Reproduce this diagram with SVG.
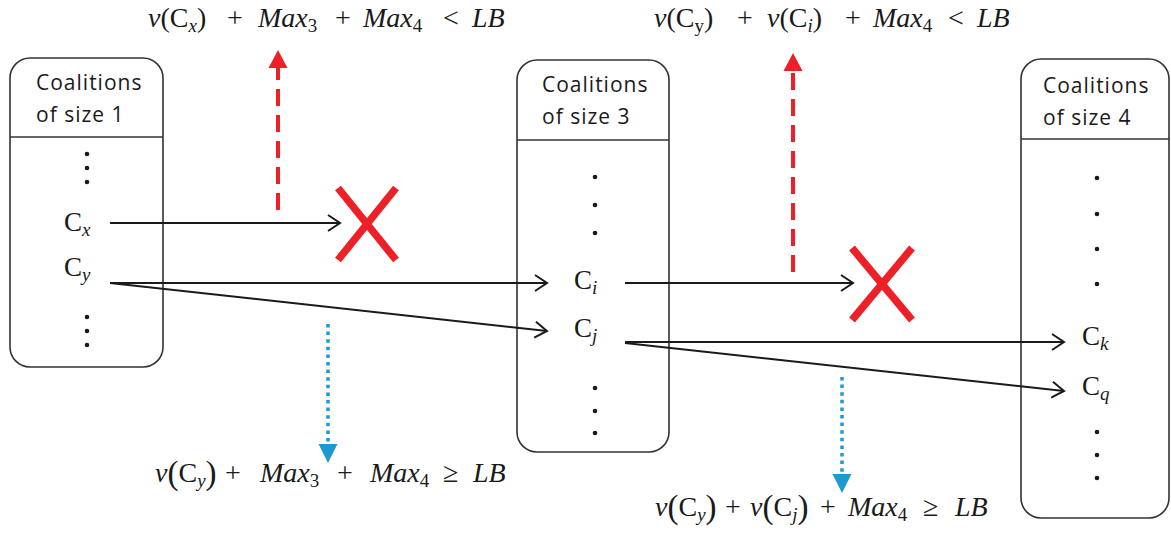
<svg xmlns="http://www.w3.org/2000/svg" width="1171" height="539" viewBox="0 0 1171 539">
<defs>
<style>
.box{fill:#fff;stroke:#333;stroke-width:1.6}
.hdr{stroke:#333;stroke-width:1.3}
.title{font-family:"Open Sans","Noto Sans",sans-serif;font-size:21px;letter-spacing:1px;fill:#1a1a1a}
.lbl{font-family:"Liberation Serif",serif;font-size:27px;fill:#1a1a1a}
.it{font-style:italic}
.sub{font-size:19px}
.big{font-size:33px}
.dot{fill:#1a1a1a}
.conn{stroke:#1a1a1a;stroke-width:2;fill:none;marker-end:url(#open)}
.red{stroke:#ED2027;stroke-width:4;fill:none;stroke-dasharray:17 9;marker-end:url(#redTri)}
.blue{stroke:#1E9AD3;stroke-width:3.5;fill:none;stroke-dasharray:3.5 4.1;marker-end:url(#blueTri)}
.cross{stroke:#ED2027;stroke-width:7.5;fill:none}
.math{font-family:"Liberation Serif",serif;font-size:28px;fill:#1a1a1a}
</style>
<marker id="open" markerUnits="userSpaceOnUse" markerWidth="20" markerHeight="20" viewBox="-14 -10 16 20" refX="0" refY="0" orient="auto">
<path d="M-12,-8 L0,0 L-12,8" fill="none" stroke="#1a1a1a" stroke-width="2"/>
</marker>
<marker id="redTri" markerUnits="userSpaceOnUse" markerWidth="22" markerHeight="22" viewBox="0 -11 20 22" refX="0" refY="0" orient="auto">
<path d="M0,-9.5 L18,0 L0,9.5 z" fill="#ED2027"/>
</marker>
<marker id="blueTri" markerUnits="userSpaceOnUse" markerWidth="22" markerHeight="22" viewBox="0 -11 22 22" refX="0" refY="0" orient="auto">
<path d="M0,-9.5 L19,0 L0,9.5 z" fill="#1E9AD3"/>
</marker>
</defs>

<g id="box1">
<rect class="box" x="10" y="58" width="153" height="309" rx="20"/>
<line class="hdr" x1="10" y1="137" x2="163" y2="137"/>
<text class="title" x="36" y="90">Coalitions</text>
<text class="title" x="36" y="122">of size 1</text>
<circle class="dot" cx="87" cy="154" r="2.3"/><circle class="dot" cx="87" cy="168" r="2.3"/><circle class="dot" cx="87" cy="182" r="2.3"/>
<text class="lbl" x="64" y="231">C<tspan class="it sub" dy="5">x</tspan></text>
<text class="lbl" x="64" y="276">C<tspan class="it sub" dy="5">y</tspan></text>
<circle class="dot" cx="87" cy="317" r="2.3"/><circle class="dot" cx="87" cy="331" r="2.3"/><circle class="dot" cx="87" cy="345" r="2.3"/>
</g>

<g id="box3">
<rect class="box" x="517" y="60" width="152" height="392" rx="20"/>
<line class="hdr" x1="517" y1="140" x2="669" y2="140"/>
<text class="title" x="542" y="92">Coalitions</text>
<text class="title" x="542" y="124">of size 3</text>
<circle class="dot" cx="595" cy="177" r="2.3"/><circle class="dot" cx="595" cy="205" r="2.3"/><circle class="dot" cx="595" cy="233" r="2.3"/>
<text class="lbl" x="574" y="289">C<tspan class="it sub" dy="5">i</tspan></text>
<text class="lbl" x="574" y="337">C<tspan class="it sub" dy="5">j</tspan></text>
<circle class="dot" cx="595" cy="388" r="2.3"/><circle class="dot" cx="595" cy="411" r="2.3"/><circle class="dot" cx="595" cy="433" r="2.3"/>
</g>

<g id="box4">
<rect class="box" x="1021" y="59" width="148" height="459" rx="20"/>
<line class="hdr" x1="1021" y1="139" x2="1169" y2="139"/>
<text class="title" x="1043" y="93">Coalitions</text>
<text class="title" x="1043" y="125">of size 4</text>
<circle class="dot" cx="1097" cy="178" r="2.3"/><circle class="dot" cx="1097" cy="214" r="2.3"/><circle class="dot" cx="1097" cy="249" r="2.3"/><circle class="dot" cx="1097" cy="284" r="2.3"/>
<text class="lbl" x="1082" y="345">C<tspan class="it sub" dy="5">k</tspan></text>
<text class="lbl" x="1082" y="395">C<tspan class="it sub" dy="5">q</tspan></text>
<circle class="dot" cx="1097" cy="432" r="2.3"/><circle class="dot" cx="1097" cy="455" r="2.3"/><circle class="dot" cx="1097" cy="478" r="2.3"/>
</g>

<g id="prune1">
<line class="cross" x1="338" y1="188" x2="396" y2="260"/>
<line class="cross" x1="396" y1="188" x2="338" y2="260"/>
</g>
<g id="prune2">
<line class="cross" x1="852" y1="248" x2="912" y2="320"/>
<line class="cross" x1="912" y1="248" x2="852" y2="320"/>
</g>

<g id="connectors">
<line class="conn" x1="110" y1="223" x2="340" y2="223"/>
<line class="conn" x1="110" y1="283" x2="547" y2="283"/>
<line class="conn" x1="110" y1="283" x2="547" y2="331"/>
<line class="conn" x1="625" y1="283" x2="853" y2="283"/>
<line class="conn" x1="625" y1="342" x2="1064" y2="342"/>
<line class="conn" x1="625" y1="343" x2="1064" y2="391"/>
<line class="red" x1="278" y1="210" x2="278" y2="68"/>
<line class="red" x1="793" y1="272" x2="793" y2="71"/>
<line class="blue" x1="328" y1="324" x2="328" y2="444"/>
<line class="blue" x1="842" y1="377" x2="842" y2="474"/>
</g>

<g id="formulas">
<text class="math" y="27"><tspan x="148" class="it">v</tspan><tspan>(C</tspan><tspan class="it sub" y="32">x</tspan><tspan y="27">)</tspan><tspan x="227">+</tspan><tspan x="258" class="it">Max</tspan><tspan class="sub" y="32">3</tspan><tspan x="335" y="27">+</tspan><tspan x="363" class="it">Max</tspan><tspan class="sub" y="32">4</tspan><tspan x="443" y="27">&lt;</tspan><tspan x="472" class="it">LB</tspan></text>
<text class="math" y="27"><tspan x="654" class="it">v</tspan><tspan>(C</tspan><tspan class="sub" y="32">y</tspan><tspan y="27">)</tspan><tspan x="737">+</tspan><tspan x="767" class="it">v</tspan><tspan>(C</tspan><tspan class="it sub" y="32">i</tspan><tspan y="27">)</tspan><tspan x="845">+</tspan><tspan x="873" class="it">Max</tspan><tspan class="sub" y="32">4</tspan><tspan x="948" y="27">&lt;</tspan><tspan x="977" class="it">LB</tspan></text>
<text class="math" y="482"><tspan x="155" class="it">v</tspan><tspan class="big" y="484">(</tspan><tspan y="482">C</tspan><tspan class="it sub" y="487">y</tspan><tspan class="big" y="484">)</tspan><tspan x="225" y="482">+</tspan><tspan x="260" class="it">Max</tspan><tspan class="sub" y="487">3</tspan><tspan x="337" y="482">+</tspan><tspan x="370" class="it">Max</tspan><tspan class="sub" y="487">4</tspan><tspan x="443" y="482">≥</tspan><tspan x="473" class="it">LB</tspan></text>
<text class="math" y="516"><tspan x="655" class="it">v</tspan><tspan class="big" y="518">(</tspan><tspan y="516">C</tspan><tspan class="it sub" y="521">y</tspan><tspan class="big" y="518">)</tspan><tspan x="725" y="516">+</tspan><tspan x="750" class="it">v</tspan><tspan class="big" y="518">(</tspan><tspan y="516">C</tspan><tspan class="it sub" y="521">j</tspan><tspan class="big" y="518">)</tspan><tspan x="820" y="516">+</tspan><tspan x="848" class="it">Max</tspan><tspan class="sub" y="521">4</tspan><tspan x="923" y="516">≥</tspan><tspan x="955" class="it">LB</tspan></text>
</g>
</svg>
